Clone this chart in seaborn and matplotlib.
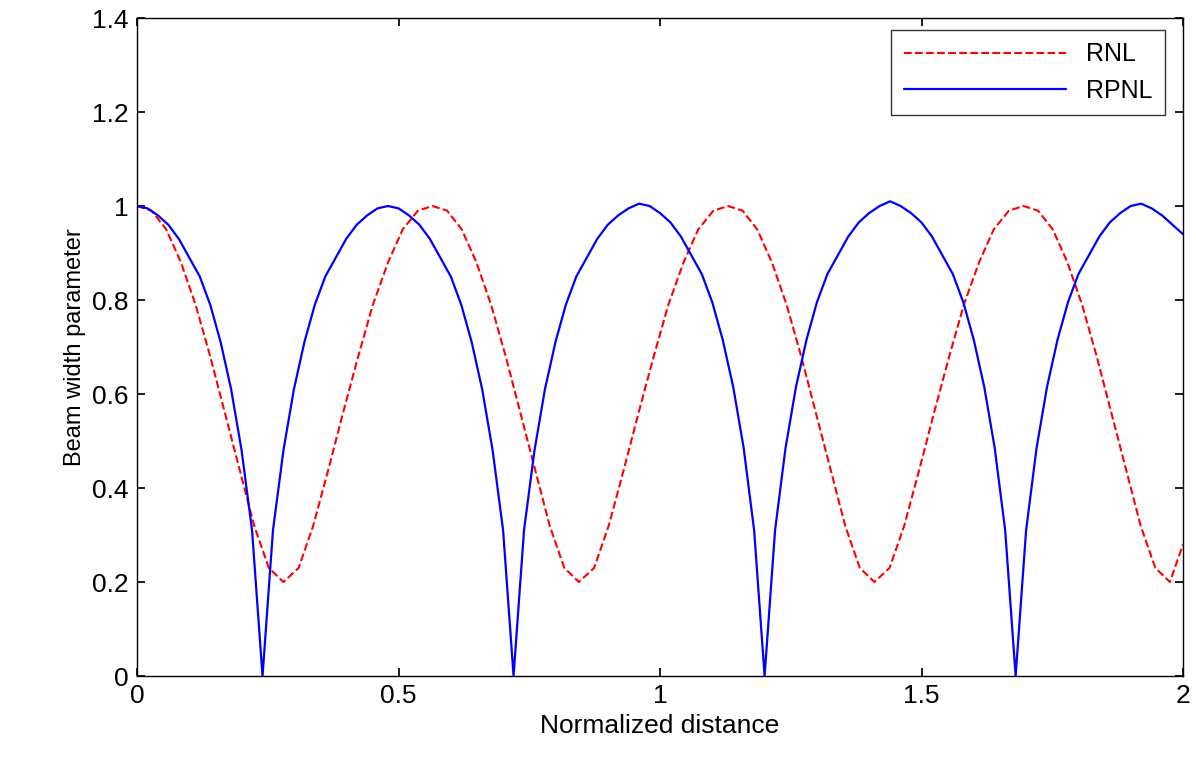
import numpy as np
import pandas as pd
import seaborn as sns
import matplotlib.pyplot as plt

# values
rpnl_x = [round(0.02 * i, 2) for i in range(101)]
rpnl_y = [1.0, .995, .98, .96, .93, .89, .85, .79, .71, .61, .48, .31, 0.0,
          .31, .48, .61, .71, .79, .85, .89, .93, .96, .98, .995, 1.0,
          .995, .98, .96, .93, .89, .85, .79, .71, .61, .48, .31, 0.0,
          .31, .48, .61, .71, .79, .85, .89, .93, .96, .98, .995, 1.005,
          1.0, .985, .965, .935, .895, .855, .795, .715, .615, .485, .31, 0.0,
          .31, .485, .615, .715, .795, .855, .895, .935, .965, .985, 1.0, 1.01,
          1.0, .985, .965, .935, .895, .855, .795, .715, .615, .485, .31, 0.0,
          .31, .485, .615, .715, .795, .855, .895, .935, .965, .985, 1.0, 1.005,
          .995, .98, .96, .94]

rnl_x = [0, .028, .056, .084, .112, .14, .168, .196, .224, .252, .28,
         .309, .337, .366, .394, .423, .451, .48, .508, .537, .565,
         .593, .621, .649, .677, .705, .733, .761, .789, .817, .845,
         .874, .902, .931, .959, .988, 1.016, 1.045, 1.073, 1.102, 1.13,
         1.158, 1.186, 1.214, 1.242, 1.27, 1.298, 1.326, 1.354, 1.382, 1.41,
         1.439, 1.467, 1.496, 1.524, 1.553, 1.581, 1.61, 1.638, 1.667, 1.695,
         1.723, 1.751, 1.779, 1.807, 1.835, 1.863, 1.891, 1.919, 1.947, 1.975, 2.0]
rnl_y = [1.0, .99, .95, .88, .79, .68, .56, .44, .32, .23, .2,
         .23, .32, .44, .56, .68, .79, .88, .95, .99, 1.0,
         .99, .95, .88, .79, .68, .56, .44, .32, .23, .2,
         .23, .32, .44, .56, .68, .79, .88, .95, .99, 1.0,
         .99, .95, .88, .79, .68, .56, .44, .32, .23, .2,
         .23, .32, .44, .56, .68, .79, .88, .95, .99, 1.0,
         .99, .95, .88, .79, .68, .56, .44, .32, .23, .2, .28]

sns.set_theme(style="white")
plt.rcParams['font.family'] = ['Liberation Sans', 'DejaVu Sans']

fig = plt.figure(figsize=(11.96, 7.61), dpi=100)
ax = fig.add_axes([137 / 1196, 1 - 676 / 761, (1183 - 137) / 1196, (676 - 18) / 761])

sns.lineplot(x=rnl_x, y=rnl_y, ax=ax, color='red', linestyle='--', linewidth=1.5,
             sort=False, estimator=None, label='RNL')
sns.lineplot(x=rpnl_x, y=rpnl_y, ax=ax, color='blue', linewidth=1.6,
             sort=False, estimator=None, label='RPNL')

ax.set_xlim(0, 2)
ax.set_ylim(0, 1.4)
ax.set_xticks([0, 0.5, 1, 1.5, 2])
ax.set_xticklabels(['0', '0.5', '1', '1.5', '2'])
ax.set_yticks([0, 0.2, 0.4, 0.6, 0.8, 1, 1.2, 1.4])
ax.set_yticklabels(['0', '0.2', '0.4', '0.6', '0.8', '1', '1.2', '1.4'])
ax.tick_params(direction='in', length=6, labelsize=19, top=True, right=True,
               bottom=True, left=True, colors='black', pad=6)
for s in ax.spines.values():
    s.set_color('black')
    s.set_linewidth(1.0)
ax.set_xlabel('Normalized distance', fontsize=19, color='black')
ax.set_ylabel('Beam width parameter', fontsize=17, color='black')
leg = ax.legend(loc='upper right', fontsize=18, frameon=True, fancybox=False,
                handlelength=6.5, borderpad=0.5, labelspacing=0.5,
                borderaxespad=0, bbox_to_anchor=(0.983, 0.982))
leg.get_frame().set_edgecolor('black')
for t in leg.get_texts():
    t.set_color('black')

fig.savefig('out.png', dpi=100)
